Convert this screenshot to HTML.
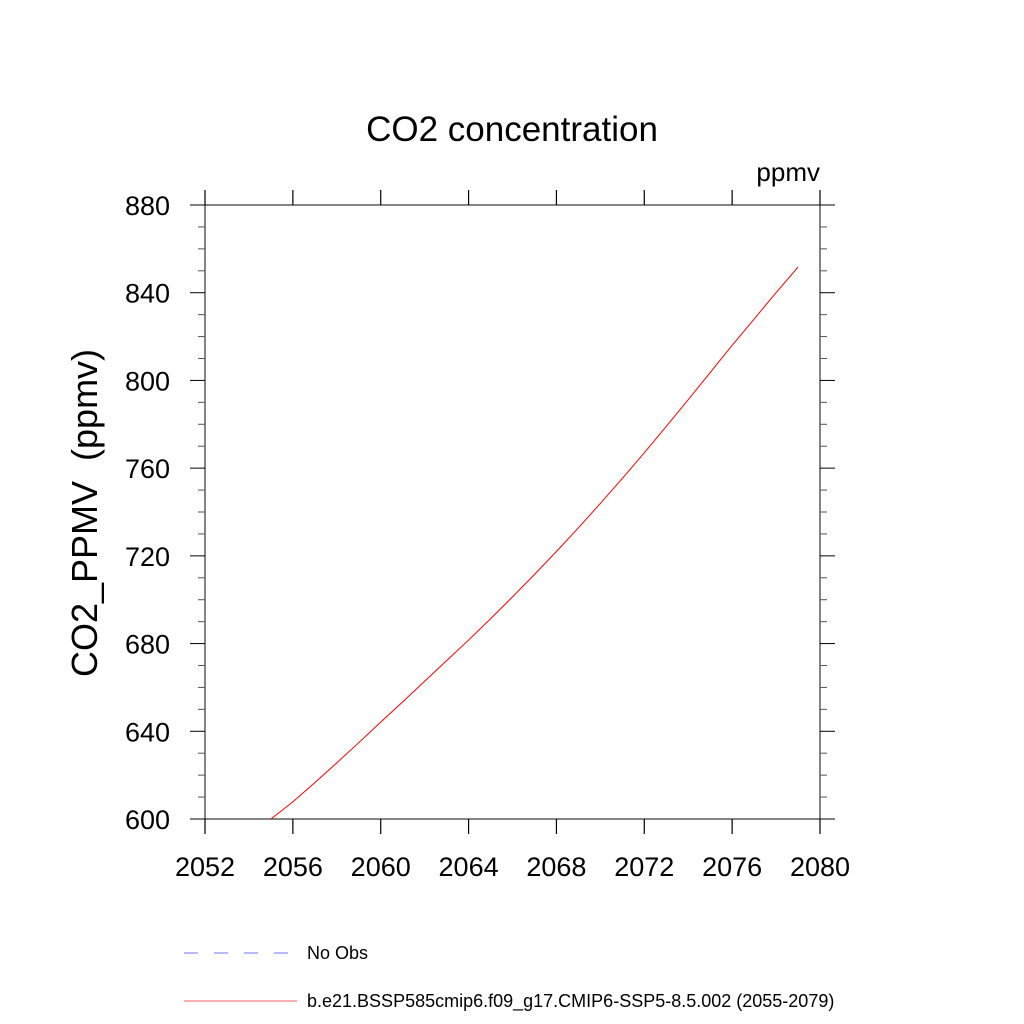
<!DOCTYPE html>
<html><head><meta charset="utf-8"><style>
html,body{margin:0;padding:0;background:#fff;}
svg{display:block;font-family:"Liberation Sans",sans-serif;}
</style></head><body>
<svg id="chart" width="1024" height="1024" viewBox="0 0 1024 1024">
<text x="512" y="141" text-anchor="middle" font-size="35">CO2 concentration</text>
<text x="820" y="181" text-anchor="end" font-size="26">ppmv</text>
<text transform="translate(97,513) rotate(-90)" text-anchor="middle" font-size="36" style="white-space:pre" xml:space="preserve">CO2_PPMV  (ppmv)</text>
<g id="axes"></g>
<g id="series"></g>
<g>
<line x1="184" y1="953" x2="292" y2="953" stroke="#7070ff" stroke-width="1" stroke-dasharray="14,16"/>
<text x="307" y="959" font-size="18">No Obs</text>
<line x1="184" y1="1001" x2="297" y2="1001" stroke="#f06060" stroke-width="1"/>
<text x="307" y="1007" font-size="18">b.e21.BSSP585cmip6.f09_g17.CMIP6-SSP5-8.5.002 (2055-2079)</text>
</g>
</svg>
<script>
const years = [2055,2056,2057,2058,2059,2060,2061,2062,2063,2064,2065,2066,2067,2068,2069,2070,2071,2072,2073,2074,2075,2076,2077,2078,2079];
const co2 = [600,607.8,616.6,625.6,634.8,644.2,653.4,662.8,672.2,681.6,691.3,701.3,711.5,722.0,732.8,743.9,755.3,767.0,779.0,791.2,803.6,816.0,828.0,840.0,851.7];
const xTicks = [2052,2056,2060,2064,2068,2072,2076,2080];
const yTicks = [600,640,680,720,760,800,840,880];

const L=205,R=820,T=205,B=819;
const x = v => L + (v-2052)/(2080-2052)*(R-L);
const y = v => B - (v-600)/(880-600)*(B-T);
const NS="http://www.w3.org/2000/svg";
const axes=document.getElementById('axes');
function ln(x1,y1,x2,y2,c,w){const e=document.createElementNS(NS,'line');e.setAttribute('x1',x1);e.setAttribute('y1',y1);e.setAttribute('x2',x2);e.setAttribute('y2',y2);e.setAttribute('stroke',c);e.setAttribute('stroke-width',w);axes.appendChild(e);return e;}
const frame=document.createElementNS(NS,'rect');
frame.setAttribute('x',L);frame.setAttribute('y',T);frame.setAttribute('width',R-L);frame.setAttribute('height',B-T);
frame.setAttribute('fill','none');frame.setAttribute('stroke','#333');frame.setAttribute('stroke-width','1.2');


axes.appendChild(frame);
xTicks.forEach(t=>{
  const e1=ln(x(t),B,x(t),B+15,'#000',1.2);
  
  
  const e2=ln(x(t),T,x(t),T-15,'#000',1.2);
  
  
  const tx=document.createElementNS(NS,'text');
  tx.setAttribute('x',x(t));tx.setAttribute('y',876);tx.setAttribute('text-anchor','middle');tx.setAttribute('font-size','27');
  tx.textContent=t;
  
  
  axes.appendChild(tx);
});
for(let v=600;v<=880;v+=10){
  const major=(v-600)%40===0;
  const len=major?15:7;
  const e1=ln(L,y(v),L-len,y(v),major?'#000':'#555',1);
  
  
  const e2=ln(R,y(v),R+len,y(v),major?'#000':'#555',1);
  
  
}
yTicks.forEach(t=>{
  const tx=document.createElementNS(NS,'text');
  tx.setAttribute('x',170);tx.setAttribute('y',y(t)+10);tx.setAttribute('text-anchor','end');tx.setAttribute('font-size','27');
  tx.textContent=t;
  
  
  axes.appendChild(tx);
});
const p=document.createElementNS(NS,'polyline');
p.setAttribute('points',years.map((yr,i)=>x(yr)+','+y(co2[i])).join(' '));
p.setAttribute('fill','none');p.setAttribute('stroke','#ff0000');p.setAttribute('stroke-width','1');


document.getElementById('series').appendChild(p);
</script>
</body></html>
